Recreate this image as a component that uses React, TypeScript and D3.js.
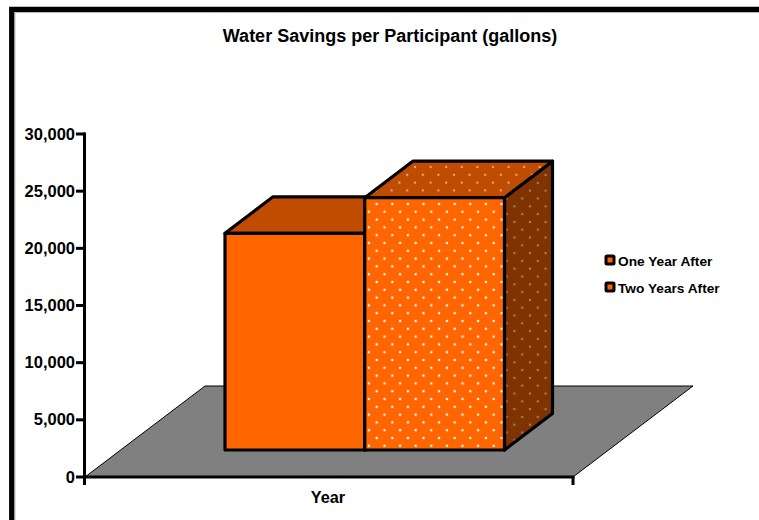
import React from 'react';
import * as d3 from 'd3';

const title = 'Water Savings per Participant (gallons)';
const categories = ['Year'];
const seriesNames = ['One Year After', 'Two Years After'];
const seriesValues = [18950, 22070];
const yTicks = [0, 5000, 10000, 15000, 20000, 25000, 30000];

const width = 759;
const height = 520;

const y = d3.scaleLinear().domain([0, 30000]).range([477, 134]);
const x = d3.scaleBand().domain(categories).range([85, 573]);
// depth of the floor, and of the bars standing on it
const floorDepth = {dx: 120, dy: -91};
const barDepth = {dx: 48, dy: -36.5};
const barInset = {dx: 36, dy: -27};
const bars = d3.scaleBand().domain(seriesNames).range([225 - barInset.dx, 504.5 - barInset.dx]);

const FONT = '"Liberation Sans", Arial, sans-serif';
const FRONT = '#FF6600';
const TOP = '#BF4C00';
const SIDE = '#7F3300';

const poly = (pts: [number, number][]) => {
  const p = d3.path();
  pts.forEach((q, i) => (i ? p.lineTo(q[0], q[1]) : p.moveTo(q[0], q[1])));
  p.closePath();
  return p.toString();
};

function Dots({id, x0, y0, fill, opacity}: {id: string; x0: number; y0: number; fill: string; opacity: number}) {
  return (
    <pattern id={id} patternUnits="userSpaceOnUse" x={x0} y={y0} width={15.6} height={15.6}>
      <circle cx={3.9} cy={3.9} r={1.2} fill={fill} fillOpacity={opacity}/>
      <circle cx={11.7} cy={11.7} r={1.2} fill={fill} fillOpacity={opacity}/>
    </pattern>
  );
}

function Bar({name, i}: {name: string; i: number}) {
  const x0 = bars(name)! + barInset.dx;
  const x1 = x0 + bars.bandwidth();
  const base = y(0) + barInset.dy;
  const top = base - (y(0) - y(seriesValues[i]));
  const {dx, dy} = barDepth;
  const dotted = i === 1;
  const stroke = {stroke: '#000', strokeWidth: 3.2, strokeLinejoin: 'round' as const};
  const front = poly([[x0, top], [x1, top], [x1, base], [x0, base]]);
  const topFace = poly([[x0, top], [x0 + dx, top + dy], [x1 + dx, top + dy], [x1, top]]);
  const side = poly([[x1, top], [x1 + dx, top + dy], [x1 + dx, base + dy], [x1, base]]);
  return (
    <g>
      <path d={side} fill={SIDE}/>
      {dotted && <path d={side} fill="url(#dotSide)"/>}
      <path d={side} fill="none" {...stroke}/>
      <path d={topFace} fill={TOP}/>
      {dotted && <path d={topFace} fill="url(#dotTop)"/>}
      <path d={topFace} fill="none" {...stroke}/>
      <path d={front} fill={FRONT}/>
      {dotted && <path d={front} fill="url(#dotFront)"/>}
      <path d={front} fill="none" {...stroke}/>
    </g>
  );
}

export default function App() {
  const xL = x.range()[0];
  const xR = x.range()[1];
  const y0 = y(0);
  return (
    <svg width={width} height={height} viewBox={`0 0 ${width} ${height}`}
         style={{position: 'absolute', left: 0, top: 0, background: '#fff'}} fontFamily={FONT}>
      <defs>
        <Dots id="dotFront" x0={372.8} y0={200.1} fill="#fff" opacity={0.95}/>
        <Dots id="dotTop" x0={411.1} y0={163.1} fill="#fff" opacity={0.5}/>
        <Dots id="dotSide" x0={526.1} y0={186.8} fill="#fff" opacity={0.35}/>
      </defs>

      {/* frame */}
      <path d={`M15,${height}V12.5H${width}`} fill="none" stroke="#bbb" strokeWidth={1}/>
      <path d={`M11.7,${height}V9.4H${width}`} fill="none" stroke="#000" strokeWidth={5.2}/>

      <text x={390} y={42} textAnchor="middle" fontSize={18} fontWeight="bold">{title}</text>

      {/* floor */}
      <path d={poly([[xL, y0], [xL + floorDepth.dx, y0 + floorDepth.dy], [xR + floorDepth.dx, y0 + floorDepth.dy], [xR, y0]])}
            fill="#808080" stroke="#000" strokeWidth={1}/>

      {seriesNames.map((name, i) => <Bar key={name} name={name} i={i}/>)}

      {/* y axis */}
      <line x1={xL - 0.5} x2={xL - 0.5} y1={y(30000) - 1.5} y2={y0 + 8} stroke="#000" strokeWidth={3}/>
      {yTicks.map(t => (
        <g key={t}>
          <line x1={xL - 9} x2={xL} y1={y(t)} y2={y(t)} stroke="#000" strokeWidth={3}/>
          <text x={xL - 10} y={y(t) + 5.5} textAnchor="end" fontSize={16.5} fontWeight="bold">{d3.format(',')(t)}</text>
        </g>
      ))}

      {/* x axis */}
      <line x1={xL} x2={xR + 1.5} y1={y0} y2={y0} stroke="#000" strokeWidth={3}/>
      <line x1={xR} x2={xR} y1={y0} y2={y0 + 8} stroke="#000" strokeWidth={3}/>
      {categories.map(c => (
        <text key={c} x={x(c)! + x.bandwidth() / 2 - 1} y={503} textAnchor="middle" fontSize={16.3} fontWeight="bold">{c}</text>
      ))}

      {/* legend */}
      {seriesNames.map((name, i) => (
        <g key={name}>
          <rect x={606} y={256 + i * 27} width={8} height={8} fill={FRONT} stroke="#000" strokeWidth={3} rx={1}/>
          <text x={618} y={266 + i * 27} fontSize={13.7} fontWeight="bold">{name}</text>
        </g>
      ))}
    </svg>
  );
}
